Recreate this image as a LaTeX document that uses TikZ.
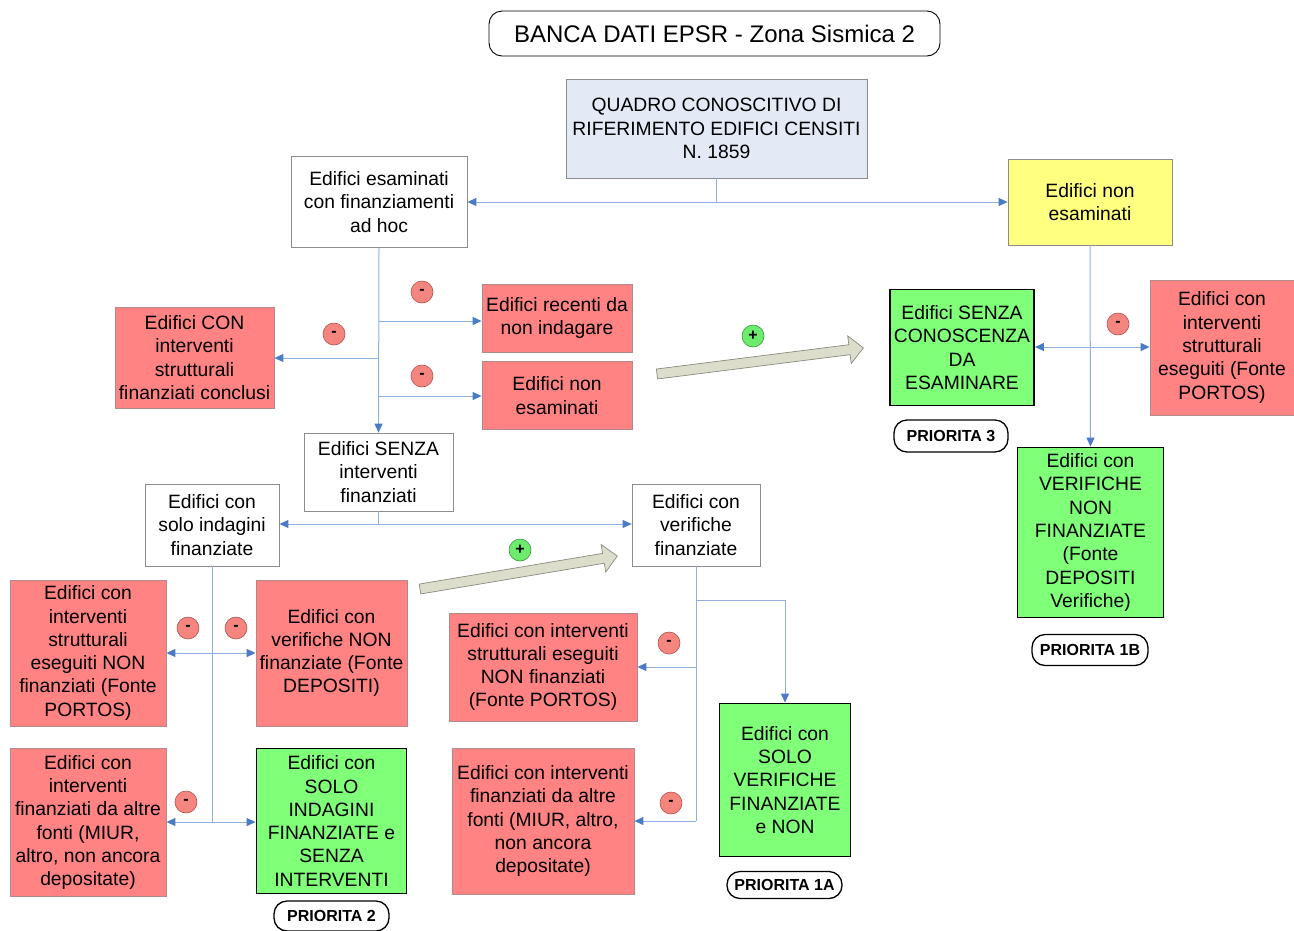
\documentclass[tikz,border=0pt]{standalone}
\usepackage{fontspec}
\setmainfont{Liberation Sans}
\usetikzlibrary{arrows.meta,calc}
\definecolor{boxred}{HTML}{FF8383}
\definecolor{boxredline}{HTML}{B08A8A}
\definecolor{boxgreen}{HTML}{80FF78}
\definecolor{boxyellow}{HTML}{FFFF80}
\definecolor{boxblue}{HTML}{E3EAF5}
\definecolor{greyline}{HTML}{8C8C8C}
\definecolor{linecol}{HTML}{8FB0DE}
\definecolor{tipcol}{HTML}{4A7BC4}
\definecolor{minusfill}{HTML}{F4857F}
\definecolor{minusline}{HTML}{B5504B}
\definecolor{plusfill}{HTML}{6CEB6C}
\definecolor{plusline}{HTML}{3C963C}
\definecolor{bigarrowfill}{HTML}{DCDDCA}
\definecolor{bigarrowline}{HTML}{8A8A80}
\begin{document}
\begin{tikzpicture}[x=1pt,y=-1pt,
  txt/.style={align=center, inner sep=0pt, font=\fontsize{19.3}{23.3}\selectfont},
  whitebox/.style={txt, draw=greyline, line width=0.8pt, fill=white},
  redbox/.style={txt, draw=boxredline, line width=0.8pt, fill=boxred},
  greenbox/.style={txt, draw=black, line width=1.8pt, fill=boxgreen},
  yellowbox/.style={txt, draw=greyline, line width=0.8pt, fill=boxyellow},
  bluebox/.style={txt, draw=greyline, line width=0.8pt, fill=boxblue},
  prio/.style={draw=black, line width=1.3pt, rounded corners=13pt, fill=white, inner sep=0pt, font=\fontsize{16}{18}\selectfont\bfseries},
  minus/.style={circle, draw=minusline, fill=minusfill, line width=0.6pt, minimum size=22pt, inner sep=0pt, font=\fontsize{16}{16}\selectfont\bfseries},
  plus/.style={circle, draw=plusline, fill=plusfill, line width=0.6pt, minimum size=22pt, inner sep=0pt, font=\fontsize{16}{16}\selectfont\bfseries},
  conn/.style={draw=linecol, line width=1pt},
  arr/.style={conn, -{Triangle[length=9pt,width=8pt,color=tipcol]}},
  darr/.style={conn, {Triangle[length=9pt,width=8pt,color=tipcol]}-{Triangle[length=9pt,width=8pt,color=tipcol]}},
  bigarrow/.style={draw=bigarrowline, fill=bigarrowfill, line width=0.7pt, line join=miter}
]
\useasboundingbox (0,0) rectangle (1294,930);

% title
\node[draw=black, line width=0.9pt, rounded corners=13pt, minimum width=451, minimum height=45, inner sep=0pt, font=\fontsize{24}{26}\selectfont] (title) at (714.5,33.5) {BANCA DATI EPSR - Zona Sismica 2};

% top level
\node[bluebox, minimum width=301, minimum height=99] (quadro) at (716.5,128.5) {QUADRO CONOSCITIVO DI\\RIFERIMENTO EDIFICI CENSITI\\N. 1859};
\node[whitebox, minimum width=176, minimum height=91] (esam) at (379,202) {Edifici esaminati\\con finanziamenti\\ad hoc};
\node[yellowbox, minimum width=164, minimum height=86] (yel) at (1090,202) {Edifici non\\esaminati};

% left branch of esam
\node[redbox, minimum width=150, minimum height=68] (recenti) at (557,318) {Edifici recenti da\\non indagare};
\node[redbox, minimum width=150, minimum height=68] (nonesR) at (557,395.5) {Edifici non\\esaminati};
\node[redbox, minimum width=159, minimum height=101] (conclusi) at (194.5,357.5) {Edifici CON\\interventi\\strutturali\\finanziati conclusi};
\node[whitebox, minimum width=149, minimum height=78] (senza) at (378.5,472) {Edifici SENZA\\interventi\\finanziati};

% right branch
\node[greenbox, minimum width=144, minimum height=116] (senzacon) at (962,347.5) {Edifici SENZA\\CONOSCENZA\\DA\\ESAMINARE};
\node[redbox, minimum width=144, minimum height=135] (portosR) at (1222,347.5) {Edifici con\\interventi\\strutturali\\eseguiti (Fonte\\PORTOS)};
\node[greenbox, minimum width=146, minimum height=170] (verNF) at (1090.5,532.5) {Edifici con\\VERIFICHE\\NON\\FINANZIATE\\(Fonte\\DEPOSITI\\Verifiche)};
\node[prio, minimum width=114, minimum height=32] (p3) at (951,436) {PRIORITA 3};
\node[prio, minimum width=116, minimum height=31] (p1b) at (1090,650) {PRIORITA 1B};

% lower left
\node[whitebox, minimum width=134, minimum height=82] (solo) at (212,525) {Edifici con\\solo indagini\\finanziate};
\node[whitebox, minimum width=128, minimum height=82] (verfin) at (696,525) {Edifici con\\verifiche\\finanziate};
\node[redbox, minimum width=156, minimum height=146] (r1) at (88,653) {Edifici con\\interventi\\strutturali\\eseguiti NON\\finanziati (Fonte\\PORTOS)};
\node[redbox, minimum width=151, minimum height=146] (r2) at (331.5,653) {Edifici con\\verifiche NON\\finanziate (Fonte\\DEPOSITI)};
\node[redbox, minimum width=156, minimum height=148] (r3) at (88,822.5) {Edifici con\\interventi\\finanziati da altre\\fonti (MIUR,\\altro, non ancora\\depositate)};
\node[greenbox, minimum width=150, minimum height=145] (g2) at (331.5,821) {Edifici con\\SOLO\\INDAGINI\\FINANZIATE e\\SENZA\\INTERVENTI};
\node[prio, minimum width=115, minimum height=30] (p2) at (331.5,916) {PRIORITA 2};

% lower middle
\node[redbox, minimum width=188, minimum height=108] (r4) at (543,667) {Edifici con interventi\\strutturali eseguiti\\NON finanziati\\(Fonte PORTOS)};
\node[redbox, minimum width=182, minimum height=146] (r5) at (543,821) {Edifici con interventi\\finanziati da altre\\fonti (MIUR, altro,\\non ancora\\depositate)};
\node[greenbox, minimum width=131, minimum height=153] (g1a) at (785,780) {Edifici con\\SOLO\\VERIFICHE\\FINANZIATE\\e NON};
\node[prio, minimum width=115, minimum height=27] (p1a) at (784.5,885) {PRIORITA 1A};

% connectors: top
\coordinate (j1) at (716.5,202);
\draw[conn] (quadro.south) -- (j1);
\draw[arr] (j1) -- (esam.east);
\draw[arr] (j1) -- (yel.west);

% esam trunk
\draw[arr] (esam.south) -- (senza.north);
\coordinate (b1) at (379,321);
\coordinate (b2) at (379,358);
\coordinate (b3) at (379,396);
\draw[arr] (b1) -- (b1 -| recenti.west);
\draw[arr] (b2) -- (b2 -| conclusi.east);
\draw[arr] (b3) -- (b3 -| nonesR.west);

% yellow trunk
\draw[arr] (yel.south) -- (verNF.north);
\coordinate (b4) at (1090.5,347);
\draw[arr] (b4) -- (b4 -| senzacon.east);
\draw[arr] (b4) -- (b4 -| portosR.west);

% senza split
\coordinate (j2) at (378.5,524);
\draw[conn] (senza.south) -- (j2);
\draw[arr] (j2) -- (j2 -| solo.east);
\draw[arr] (j2) -- (j2 -| verfin.west);

% solo trunk
\coordinate (s1) at (212,653);
\coordinate (s2) at (212,822);
\draw[conn] (solo.south) -- (s2);
\draw[arr] (s1) -- (s1 -| r1.east);
\draw[arr] (s1) -- (s1 -| r2.west);
\draw[arr] (s2) -- (s2 -| r3.east);
\draw[arr] (s2) -- (s2 -| g2.west);

% verfin trunk
\coordinate (v0) at (696,600);
\coordinate (v1) at (696,667);
\coordinate (v2) at (696,821);
\draw[conn] (verfin.south) -- (v2);
\draw[arr] (v0) -| (g1a.north);
\draw[arr] (v1) -- (v1 -| r4.east);
\draw[arr] (v2) -- (v2 -| r5.east);

% minus / plus markers
\node[minus] (m1) at (422,292) {-};
\node[minus] (m2) at (334,334) {-};
\node[minus] (m3) at (422,376) {-};
\node[minus] (m4) at (1118,324) {-};
\node[minus] (m5) at (188,628) {-};
\node[minus] (m6) at (236,628) {-};
\node[minus] (m7) at (186,802) {-};
\node[minus] (m8) at (669,643) {-};
\node[minus] (m9) at (671,803) {-};
\node[plus] (pl1) at (753,336) {+};
\node[plus] (pl2) at (520,550) {+};

% big arrows
\coordinate (ba1) at (657,374);
\begin{scope}[shift={(ba1)}, rotate=7.2]
\draw[bigarrow] (0,-5) -- (194,-5) -- (194,-14) -- (208,0) -- (194,14) -- (194,5) -- (0,5) -- cycle;
\end{scope}
\coordinate (ba2) at (420,589);
\begin{scope}[shift={(ba2)}, rotate=9.5]
\draw[bigarrow] (0,-5) -- (186,-5) -- (186,-14) -- (200,0) -- (186,14) -- (186,5) -- (0,5) -- cycle;
\end{scope}
\end{tikzpicture}
\end{document}
